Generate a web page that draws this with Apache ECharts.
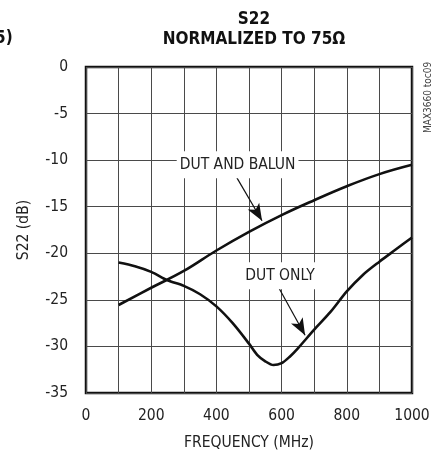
<!DOCTYPE html>
<html>
<head>
<meta charset="utf-8">
<script src="https://cdn.jsdelivr.net/npm/echarts@6/dist/echarts.min.js"></script>
<style>
html,body{margin:0;padding:0;background:#fff;}
#chart{width:435px;height:452px;}
</style>
</head>
<body>
<div id="chart"></div>
<script>
var FONT = "'DejaVu Sans Condensed', 'Liberation Sans Narrow', sans-serif";

var balunFreq = [100, 200, 300, 400, 500, 600, 700, 800, 900, 1000];
var balunS22 = [-25.55, -23.7, -21.9, -19.7, -17.7, -15.9, -14.3, -12.8, -11.5, -10.5];

var dutFreq = [100, 150, 200, 250, 300, 350, 400, 450, 500, 525, 550, 575, 600, 625, 650, 700, 750, 800, 850, 900, 950, 1000];
var dutS22 = [-21.0, -21.4, -22.0, -22.9, -23.5, -24.4, -25.7, -27.5, -29.7, -30.9, -31.6, -32.0, -31.8, -31.1, -30.2, -28.2, -26.3, -24.1, -22.3, -20.9, -19.6, -18.3];

var xTicks = [0, 200, 400, 600, 800, 1000];
var yTicks = [0, -5, -10, -15, -20, -25, -30, -35];

var labelBalun = {text: 'DUT AND BALUN', at: [465, -10.5]};
var labelDut = {text: 'DUT ONLY', at: [595, -22.4]};
var arrowBalun = [[463, -11.9], [540, -16.5]];
var arrowDut = [[593, -23.8], [672, -28.8]];

function pairs(xs, ys) { return xs.map(function (x, i) { return [x, ys[i]]; }); }

var chart = echarts.init(document.getElementById('chart'), null, {renderer: 'canvas'});

var FS = 15.5;
var labelStyle = {
  show: true, position: 'inside', color: '#222', fontFamily: FONT, fontSize: FS,
  backgroundColor: '#fff', padding: [6, 3, 5, 3]
};

chart.setOption({
  animation: false,
  backgroundColor: '#fff',
  title: {
    text: 'S22\nNORMALIZED TO 75Ω',
    left: 249, top: 5, textAlign: 'center',
    textStyle: {fontFamily: FONT, fontWeight: 'bold', fontSize: 17, color: '#111', lineHeight: 20}
  },
  graphic: [
    {type: 'text', left: -5, top: 30, style: {text: '5)', fontFamily: FONT, fontWeight: 'bold', fontSize: 17, fill: '#111'}},
    {type: 'text', x: 423, y: 133, rotation: Math.PI / 2,
     style: {text: 'MAX3660 toc09', fontFamily: FONT, fontSize: 10, fill: '#444'}}
  ],
  grid: {left: 86, right: 23, top: 67, bottom: 59, outerBoundsMode: 'none', containLabel: false,
         show: true, borderColor: '#111', borderWidth: 2.5, backgroundColor: 'transparent'},
  xAxis: {
    type: 'value', min: 0, max: 1000, interval: 100,
    name: 'FREQUENCY (MHz)', nameLocation: 'middle', nameGap: 42,
    nameTextStyle: {fontFamily: FONT, fontSize: FS, color: '#222'},
    axisLine: {show: false}, axisTick: {show: false},
    axisLabel: {
      margin: 15, fontFamily: FONT, fontSize: FS, color: '#222',
      formatter: function (v) { return xTicks.indexOf(v) >= 0 ? String(v) : ''; }
    },
    splitLine: {show: true, lineStyle: {color: '#4a4a4a', width: 1}}
  },
  yAxis: {
    type: 'value', min: -35, max: 0, interval: 5,
    name: 'S22 (dB)', nameLocation: 'middle', nameGap: 54,
    nameTextStyle: {fontFamily: FONT, fontSize: FS, color: '#222'},
    axisLine: {show: false}, axisTick: {show: false},
    axisLabel: {
      margin: 18, fontFamily: FONT, fontSize: FS, color: '#222',
      formatter: function (v) { return yTicks.indexOf(v) >= 0 ? String(v) : ''; }
    },
    splitLine: {show: true, lineStyle: {color: '#4a4a4a', width: 1}}
  },
  series: [
    {
      name: 'DUT AND BALUN', type: 'line', data: pairs(balunFreq, balunS22),
      smooth: 0.4, symbol: 'none', lineStyle: {color: '#111', width: 2.6}, z: 3,
      markLine: {
        silent: true, symbol: ['none', 'arrow'], symbolSize: [10, 17],
        lineStyle: {color: '#111', width: 1.2, type: 'solid'}, label: {show: false},
        data: [[{coord: arrowBalun[0]}, {coord: arrowBalun[1]}]]
      },
      markPoint: {
        silent: true, symbol: 'rect', symbolSize: 1, itemStyle: {color: 'rgba(0,0,0,0)'},
        label: labelStyle,
        data: [{coord: labelBalun.at, value: labelBalun.text}]
      }
    },
    {
      name: 'DUT ONLY', type: 'line', data: pairs(dutFreq, dutS22),
      smooth: 0.3, symbol: 'none', lineStyle: {color: '#111', width: 2.6}, z: 3,
      markLine: {
        silent: true, symbol: ['none', 'arrow'], symbolSize: [10, 17],
        lineStyle: {color: '#111', width: 1.2, type: 'solid'}, label: {show: false},
        data: [[{coord: arrowDut[0]}, {coord: arrowDut[1]}]]
      },
      markPoint: {
        silent: true, symbol: 'rect', symbolSize: 1, itemStyle: {color: 'rgba(0,0,0,0)'},
        label: labelStyle,
        data: [{coord: labelDut.at, value: labelDut.text}]
      }
    }
  ]
});
</script>
</body>
</html>
